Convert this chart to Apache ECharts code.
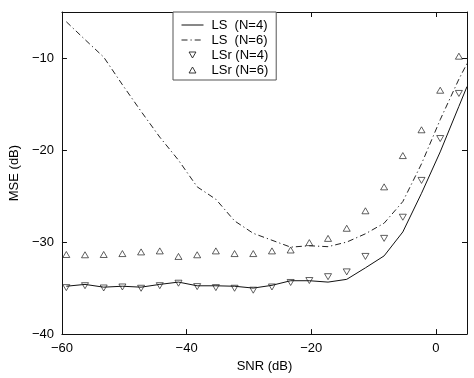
<!DOCTYPE html>
<html>
<head>
<meta charset="utf-8">
<script src="https://cdn.jsdelivr.net/npm/echarts@6/dist/echarts.min.js"></script>
<style>
html,body{margin:0;padding:0;background:#fff;}
#c{width:474px;height:378px;}
</style>
</head>
<body>
<div id="c"></div>
<script>
// SNR values (dB) of the markers
var snrMarkers = [-59.3,-56.3,-53.3,-50.3,-47.3,-44.3,-41.3,-38.3,-35.3,-32.3,-29.3,-26.3,-23.3,-20.3,-17.3,-14.3,-11.3,-8.3,-5.3,-2.3,0.7,3.7];
// SNR values (dB) of the curves
var snrLines = [-59.3,-56.3,-53.3,-50.3,-47.3,-44.3,-41.3,-38.3,-35.3,-32.3,-29.3,-26.3,-23.3,-20.3,-17.3,-14.3,-11.3,-8.3,-5.3,-2.3,0.7,3.7,5];
var ls4 = [-34.8,-34.6,-34.9,-34.8,-34.9,-34.6,-34.35,-34.75,-34.75,-34.8,-35.0,-34.7,-34.2,-34.2,-34.35,-34.05,-32.8,-31.5,-28.9,-24.7,-20.2,-15.25,-13.1];
var ls6 = [-6.06,-8.0,-9.9,-12.9,-15.8,-18.6,-21.1,-24.0,-25.35,-27.7,-29.05,-29.8,-30.55,-30.4,-30.5,-30.0,-29.1,-27.95,-25.6,-21.5,-16.7,-12.3,-10.6];
var lsr4 = [-34.95,-34.74,-34.99,-34.88,-35.02,-34.74,-34.47,-34.84,-34.95,-35.02,-35.23,-34.88,-34.39,-34.18,-33.76,-33.24,-31.56,-29.6,-27.3,-23.3,-18.75,-13.85];
var lsr6 = [-31.35,-31.38,-31.35,-31.25,-31.07,-30.96,-31.56,-31.38,-30.96,-31.25,-31.25,-30.96,-30.86,-30.06,-29.6,-28.5,-26.6,-24.0,-20.6,-17.8,-13.5,-9.8];
var names = ['LS  (N=4)', 'LS  (N=6)', 'LSr (N=4)', 'LSr (N=6)'];
var xTicks = {min: -60, max: 5, interval: 20};
var yTicks = {min: -40, max: -5, interval: 10};

function pairs(xs, ys){ return xs.map(function(x,i){ return [x, ys[i]]; }); }
function minus(v){ return String(v).replace('-', '\u2212'); }

var FONT = 'Liberation Sans, Arial, Helvetica, sans-serif';
function ax(extra, ticks, showLabel){
  var o = {
    type: 'value', min: ticks.min, max: ticks.max, interval: ticks.interval,
    axisLine: {show: true, onZero: false, lineStyle: {color: '#111', width: 1}},
    axisTick: {show: true, inside: true, length: 5, lineStyle: {color: '#111', width: 1}},
    splitLine: {show: false},
    axisLabel: showLabel ? {color: '#000', fontSize: 13, fontFamily: FONT, showMaxLabel: false, formatter: minus} : {show: false}
  };
  for (var k in extra) o[k] = extra[k];
  return o;
}

var hollow = {color: 'rgba(255,255,255,0)', borderColor: '#222', borderWidth: 0.9};
var legendHollow = {color: '#fff', borderColor: '#222', borderWidth: 0.9, opacity: 1};
var chart = echarts.init(document.getElementById('c'), null, {renderer: 'canvas'});
chart.setOption({
  backgroundColor: '#fff',
  animation: false,
  grid: {left: 43, right: 7, top: 12, bottom: 32, containLabel: false},
  xAxis: [
    ax({position: 'bottom', name: 'SNR (dB)', nameLocation: 'middle', nameGap: 19,
        nameTextStyle: {color: '#000', fontSize: 13, fontFamily: FONT}}, xTicks, true),
    ax({position: 'top'}, xTicks, false)
  ],
  yAxis: [
    ax({position: 'left', name: 'MSE (dB)', nameLocation: 'middle', nameGap: 27,
        nameTextStyle: {color: '#000', fontSize: 13, fontFamily: FONT}}, yTicks, true),
    ax({position: 'right'}, yTicks, false)
  ],
  legend: {
    left: 173, top: 12, orient: 'vertical',
    backgroundColor: '#fff', borderColor: '#555', borderWidth: 1, borderRadius: 0,
    padding: [6, 8, 3, 8], itemGap: 1, itemWidth: 22, itemHeight: 6,
    textStyle: {color: '#000', fontSize: 13, fontFamily: FONT, lineHeight: 14, padding: [0,0,0,3]},
    data: [
      {name: names[0], itemStyle: {opacity: 0}, lineStyle: {width: 1, color: '#111'}},
      {name: names[1], itemStyle: {opacity: 0}, lineStyle: {width: 1, color: '#222', type: [6, 3, 1.2, 3]}},
      {name: names[2], icon: 'path://M0,0L8,0L4,7Z', itemStyle: legendHollow},
      {name: names[3], icon: 'path://M4,0L8,7L0,7Z', itemStyle: legendHollow}
    ]
  },
  series: [
    {name: names[0], type: 'line', data: pairs(snrLines, ls4), symbol: 'none',
     lineStyle: {color: '#111', width: 1}, itemStyle: {color: '#111'}, z: 3},
    {name: names[1], type: 'line', data: pairs(snrLines, ls6), symbol: 'none',
     lineStyle: {color: '#222', width: 1, type: [6, 3, 1.2, 3]}, itemStyle: {color: '#222'}, z: 3},
    {name: names[2], type: 'scatter', data: pairs(snrMarkers, lsr4), symbol: 'triangle', symbolRotate: 180,
     symbolSize: [7, 6], itemStyle: hollow, z: 4},
    {name: names[3], type: 'scatter', data: pairs(snrMarkers, lsr6), symbol: 'triangle',
     symbolSize: [7, 6], itemStyle: hollow, z: 4}
  ]
});
</script>
</body>
</html>
